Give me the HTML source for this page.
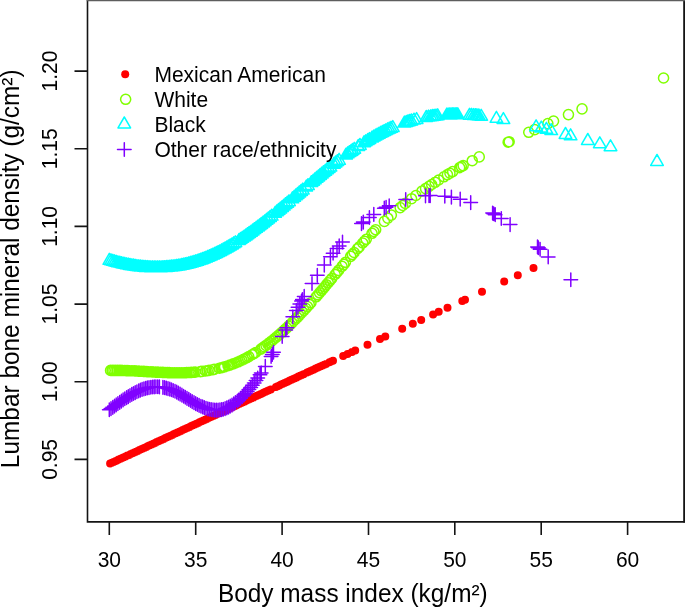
<!DOCTYPE html>
<html lang="en">
<head>
<meta charset="utf-8">
<title>Lumbar bone mineral density vs body mass index</title>
<style>
html,body{margin:0;padding:0;background:#fff;}
body{width:685px;height:608px;overflow:hidden;}
svg{display:block;will-change:transform;opacity:.9999;}
svg text{font-family:"Liberation Sans",sans-serif;fill:#000;}
</style>
</head>
<body>
<svg width="685" height="608" viewBox="0 0 685 608">
<rect width="685" height="608" fill="#fff"/>
<g id="series">
<path d="M106.1 463.6a4 4 0 1 0 8 0a4 4 0 1 0 -8 0M107.8 462.8a4 4 0 1 0 8 0a4 4 0 1 0 -8 0M109.6 462a4 4 0 1 0 8 0a4 4 0 1 0 -8 0M111.3 461.2a4 4 0 1 0 8 0a4 4 0 1 0 -8 0M113 460.4a4 4 0 1 0 8 0a4 4 0 1 0 -8 0M114.7 459.6a4 4 0 1 0 8 0a4 4 0 1 0 -8 0M116.5 458.8a4 4 0 1 0 8 0a4 4 0 1 0 -8 0M118.2 458a4 4 0 1 0 8 0a4 4 0 1 0 -8 0M119.9 457.2a4 4 0 1 0 8 0a4 4 0 1 0 -8 0M121.6 456.4a4 4 0 1 0 8 0a4 4 0 1 0 -8 0M123.4 455.6a4 4 0 1 0 8 0a4 4 0 1 0 -8 0M125.1 454.9a4 4 0 1 0 8 0a4 4 0 1 0 -8 0M126.8 454.1a4 4 0 1 0 8 0a4 4 0 1 0 -8 0M128.6 453.3a4 4 0 1 0 8 0a4 4 0 1 0 -8 0M130.3 452.5a4 4 0 1 0 8 0a4 4 0 1 0 -8 0M132 451.7a4 4 0 1 0 8 0a4 4 0 1 0 -8 0M133.7 450.9a4 4 0 1 0 8 0a4 4 0 1 0 -8 0M135.5 450.1a4 4 0 1 0 8 0a4 4 0 1 0 -8 0M137.2 449.3a4 4 0 1 0 8 0a4 4 0 1 0 -8 0M138.9 448.5a4 4 0 1 0 8 0a4 4 0 1 0 -8 0M140.7 447.7a4 4 0 1 0 8 0a4 4 0 1 0 -8 0M142.4 446.9a4 4 0 1 0 8 0a4 4 0 1 0 -8 0M144.1 446.1a4 4 0 1 0 8 0a4 4 0 1 0 -8 0M145.8 445.3a4 4 0 1 0 8 0a4 4 0 1 0 -8 0M147.6 444.5a4 4 0 1 0 8 0a4 4 0 1 0 -8 0M149.3 443.7a4 4 0 1 0 8 0a4 4 0 1 0 -8 0M151 442.9a4 4 0 1 0 8 0a4 4 0 1 0 -8 0M152.7 442.1a4 4 0 1 0 8 0a4 4 0 1 0 -8 0M154.5 441.3a4 4 0 1 0 8 0a4 4 0 1 0 -8 0M156.2 440.5a4 4 0 1 0 8 0a4 4 0 1 0 -8 0M157.9 439.7a4 4 0 1 0 8 0a4 4 0 1 0 -8 0M159.7 438.9a4 4 0 1 0 8 0a4 4 0 1 0 -8 0M161.4 438.1a4 4 0 1 0 8 0a4 4 0 1 0 -8 0M163.1 437.3a4 4 0 1 0 8 0a4 4 0 1 0 -8 0M164.8 436.5a4 4 0 1 0 8 0a4 4 0 1 0 -8 0M166.6 435.7a4 4 0 1 0 8 0a4 4 0 1 0 -8 0M168.3 434.9a4 4 0 1 0 8 0a4 4 0 1 0 -8 0M170 434.1a4 4 0 1 0 8 0a4 4 0 1 0 -8 0M171.8 433.3a4 4 0 1 0 8 0a4 4 0 1 0 -8 0M173.5 432.5a4 4 0 1 0 8 0a4 4 0 1 0 -8 0M175.2 431.7a4 4 0 1 0 8 0a4 4 0 1 0 -8 0M176.9 430.9a4 4 0 1 0 8 0a4 4 0 1 0 -8 0M178.7 430.1a4 4 0 1 0 8 0a4 4 0 1 0 -8 0M180.4 429.3a4 4 0 1 0 8 0a4 4 0 1 0 -8 0M182.1 428.5a4 4 0 1 0 8 0a4 4 0 1 0 -8 0M183.8 427.7a4 4 0 1 0 8 0a4 4 0 1 0 -8 0M185.6 426.9a4 4 0 1 0 8 0a4 4 0 1 0 -8 0M187.3 426.1a4 4 0 1 0 8 0a4 4 0 1 0 -8 0M189 425.3a4 4 0 1 0 8 0a4 4 0 1 0 -8 0M190.8 424.5a4 4 0 1 0 8 0a4 4 0 1 0 -8 0M192.5 423.7a4 4 0 1 0 8 0a4 4 0 1 0 -8 0M194.2 422.9a4 4 0 1 0 8 0a4 4 0 1 0 -8 0M195.9 422.1a4 4 0 1 0 8 0a4 4 0 1 0 -8 0M197.7 421.3a4 4 0 1 0 8 0a4 4 0 1 0 -8 0M199.4 420.5a4 4 0 1 0 8 0a4 4 0 1 0 -8 0M201.1 419.7a4 4 0 1 0 8 0a4 4 0 1 0 -8 0M202.8 418.9a4 4 0 1 0 8 0a4 4 0 1 0 -8 0M204.6 418.1a4 4 0 1 0 8 0a4 4 0 1 0 -8 0M206.3 417.3a4 4 0 1 0 8 0a4 4 0 1 0 -8 0M208 416.5a4 4 0 1 0 8 0a4 4 0 1 0 -8 0M209.8 415.7a4 4 0 1 0 8 0a4 4 0 1 0 -8 0M211.5 414.9a4 4 0 1 0 8 0a4 4 0 1 0 -8 0M213.2 414.1a4 4 0 1 0 8 0a4 4 0 1 0 -8 0M214.9 413.3a4 4 0 1 0 8 0a4 4 0 1 0 -8 0M216.7 412.5a4 4 0 1 0 8 0a4 4 0 1 0 -8 0M218.4 411.7a4 4 0 1 0 8 0a4 4 0 1 0 -8 0M220.1 411a4 4 0 1 0 8 0a4 4 0 1 0 -8 0M221.9 410.2a4 4 0 1 0 8 0a4 4 0 1 0 -8 0M223.6 409.4a4 4 0 1 0 8 0a4 4 0 1 0 -8 0M225.3 408.6a4 4 0 1 0 8 0a4 4 0 1 0 -8 0M227 407.8a4 4 0 1 0 8 0a4 4 0 1 0 -8 0M228.8 407a4 4 0 1 0 8 0a4 4 0 1 0 -8 0M230.5 406.2a4 4 0 1 0 8 0a4 4 0 1 0 -8 0M232.2 405.4a4 4 0 1 0 8 0a4 4 0 1 0 -8 0M233.9 404.6a4 4 0 1 0 8 0a4 4 0 1 0 -8 0M235.7 403.8a4 4 0 1 0 8 0a4 4 0 1 0 -8 0M237.4 403a4 4 0 1 0 8 0a4 4 0 1 0 -8 0M239.1 402.2a4 4 0 1 0 8 0a4 4 0 1 0 -8 0M240.9 401.4a4 4 0 1 0 8 0a4 4 0 1 0 -8 0M242.6 400.6a4 4 0 1 0 8 0a4 4 0 1 0 -8 0M244.3 399.8a4 4 0 1 0 8 0a4 4 0 1 0 -8 0M246 399a4 4 0 1 0 8 0a4 4 0 1 0 -8 0M247.8 398.2a4 4 0 1 0 8 0a4 4 0 1 0 -8 0M249.5 397.4a4 4 0 1 0 8 0a4 4 0 1 0 -8 0M251.2 396.6a4 4 0 1 0 8 0a4 4 0 1 0 -8 0M253 395.8a4 4 0 1 0 8 0a4 4 0 1 0 -8 0M254.7 395a4 4 0 1 0 8 0a4 4 0 1 0 -8 0M256.4 394.2a4 4 0 1 0 8 0a4 4 0 1 0 -8 0M258.1 393.4a4 4 0 1 0 8 0a4 4 0 1 0 -8 0M259.9 392.6a4 4 0 1 0 8 0a4 4 0 1 0 -8 0M261.6 391.8a4 4 0 1 0 8 0a4 4 0 1 0 -8 0M263.3 391a4 4 0 1 0 8 0a4 4 0 1 0 -8 0M265 390.2a4 4 0 1 0 8 0a4 4 0 1 0 -8 0M266.8 389.4a4 4 0 1 0 8 0a4 4 0 1 0 -8 0M272 387a4 4 0 1 0 8 0a4 4 0 1 0 -8 0M273.7 386.2a4 4 0 1 0 8 0a4 4 0 1 0 -8 0M275.4 385.4a4 4 0 1 0 8 0a4 4 0 1 0 -8 0M277.1 384.6a4 4 0 1 0 8 0a4 4 0 1 0 -8 0M278.9 383.8a4 4 0 1 0 8 0a4 4 0 1 0 -8 0M280.6 383a4 4 0 1 0 8 0a4 4 0 1 0 -8 0M282.3 382.2a4 4 0 1 0 8 0a4 4 0 1 0 -8 0M284 381.4a4 4 0 1 0 8 0a4 4 0 1 0 -8 0M285.8 380.6a4 4 0 1 0 8 0a4 4 0 1 0 -8 0M287.5 379.8a4 4 0 1 0 8 0a4 4 0 1 0 -8 0M289.2 379a4 4 0 1 0 8 0a4 4 0 1 0 -8 0M291 378.2a4 4 0 1 0 8 0a4 4 0 1 0 -8 0M292.7 377.4a4 4 0 1 0 8 0a4 4 0 1 0 -8 0M294.4 376.6a4 4 0 1 0 8 0a4 4 0 1 0 -8 0M296.1 375.8a4 4 0 1 0 8 0a4 4 0 1 0 -8 0M297.9 375a4 4 0 1 0 8 0a4 4 0 1 0 -8 0M299.6 374.2a4 4 0 1 0 8 0a4 4 0 1 0 -8 0M303.1 372.6a4 4 0 1 0 8 0a4 4 0 1 0 -8 0M304.8 371.8a4 4 0 1 0 8 0a4 4 0 1 0 -8 0M306.5 371a4 4 0 1 0 8 0a4 4 0 1 0 -8 0M308.2 370.2a4 4 0 1 0 8 0a4 4 0 1 0 -8 0M310 369.4a4 4 0 1 0 8 0a4 4 0 1 0 -8 0M311.7 368.6a4 4 0 1 0 8 0a4 4 0 1 0 -8 0M313.4 367.8a4 4 0 1 0 8 0a4 4 0 1 0 -8 0M315.1 367.1a4 4 0 1 0 8 0a4 4 0 1 0 -8 0M316.9 366.3a4 4 0 1 0 8 0a4 4 0 1 0 -8 0M318.6 365.5a4 4 0 1 0 8 0a4 4 0 1 0 -8 0M320.3 364.7a4 4 0 1 0 8 0a4 4 0 1 0 -8 0M322.1 363.9a4 4 0 1 0 8 0a4 4 0 1 0 -8 0M325.5 362.3a4 4 0 1 0 8 0a4 4 0 1 0 -8 0M327.2 361.5a4 4 0 1 0 8 0a4 4 0 1 0 -8 0M329 360.7a4 4 0 1 0 8 0a4 4 0 1 0 -8 0M339.2 355.9a4 4 0 1 0 8 0a4 4 0 1 0 -8 0M343.6 353.9a4 4 0 1 0 8 0a4 4 0 1 0 -8 0M348 351.9a4 4 0 1 0 8 0a4 4 0 1 0 -8 0M351.2 350.4a4 4 0 1 0 8 0a4 4 0 1 0 -8 0M363.5 344.7a4 4 0 1 0 8 0a4 4 0 1 0 -8 0M376 338.9a4 4 0 1 0 8 0a4 4 0 1 0 -8 0M381.3 336.5a4 4 0 1 0 8 0a4 4 0 1 0 -8 0M398.2 328.7a4 4 0 1 0 8 0a4 4 0 1 0 -8 0M408.8 323.8a4 4 0 1 0 8 0a4 4 0 1 0 -8 0M417.2 319.9a4 4 0 1 0 8 0a4 4 0 1 0 -8 0M429.1 314.4a4 4 0 1 0 8 0a4 4 0 1 0 -8 0M434.7 311.8a4 4 0 1 0 8 0a4 4 0 1 0 -8 0M443.5 307.8a4 4 0 1 0 8 0a4 4 0 1 0 -8 0M458.3 300.9a4 4 0 1 0 8 0a4 4 0 1 0 -8 0M461 299.7a4 4 0 1 0 8 0a4 4 0 1 0 -8 0M478 291.8a4 4 0 1 0 8 0a4 4 0 1 0 -8 0M500.2 281.6a4 4 0 1 0 8 0a4 4 0 1 0 -8 0M513.8 275.3a4 4 0 1 0 8 0a4 4 0 1 0 -8 0M529.5 268a4 4 0 1 0 8 0a4 4 0 1 0 -8 0" fill="#ff0000"/>
<path d="M105.5 370.4a5 5 0 1 0 10.1 0a5 5 0 1 0 -10.1 0M107.2 370.4a5 5 0 1 0 10.1 0a5 5 0 1 0 -10.1 0M108.9 370.4a5 5 0 1 0 10.1 0a5 5 0 1 0 -10.1 0M110.7 370.4a5 5 0 1 0 10.1 0a5 5 0 1 0 -10.1 0M112.4 370.4a5 5 0 1 0 10.1 0a5 5 0 1 0 -10.1 0M114.1 370.4a5 5 0 1 0 10.1 0a5 5 0 1 0 -10.1 0M115.8 370.4a5 5 0 1 0 10.1 0a5 5 0 1 0 -10.1 0M117.6 370.5a5 5 0 1 0 10.1 0a5 5 0 1 0 -10.1 0M119.3 370.5a5 5 0 1 0 10.1 0a5 5 0 1 0 -10.1 0M121 370.6a5 5 0 1 0 10.1 0a5 5 0 1 0 -10.1 0M122.8 370.6a5 5 0 1 0 10.1 0a5 5 0 1 0 -10.1 0M124.5 370.7a5 5 0 1 0 10.1 0a5 5 0 1 0 -10.1 0M126.2 370.8a5 5 0 1 0 10.1 0a5 5 0 1 0 -10.1 0M127.9 370.8a5 5 0 1 0 10.1 0a5 5 0 1 0 -10.1 0M129.7 370.9a5 5 0 1 0 10.1 0a5 5 0 1 0 -10.1 0M131.4 371a5 5 0 1 0 10.1 0a5 5 0 1 0 -10.1 0M133.1 371.1a5 5 0 1 0 10.1 0a5 5 0 1 0 -10.1 0M134.8 371.2a5 5 0 1 0 10.1 0a5 5 0 1 0 -10.1 0M136.6 371.3a5 5 0 1 0 10.1 0a5 5 0 1 0 -10.1 0M138.3 371.4a5 5 0 1 0 10.1 0a5 5 0 1 0 -10.1 0M140 371.5a5 5 0 1 0 10.1 0a5 5 0 1 0 -10.1 0M141.8 371.6a5 5 0 1 0 10.1 0a5 5 0 1 0 -10.1 0M143.5 371.7a5 5 0 1 0 10.1 0a5 5 0 1 0 -10.1 0M145.2 371.8a5 5 0 1 0 10.1 0a5 5 0 1 0 -10.1 0M146.9 371.9a5 5 0 1 0 10.1 0a5 5 0 1 0 -10.1 0M148.7 372a5 5 0 1 0 10.1 0a5 5 0 1 0 -10.1 0M150.4 372.1a5 5 0 1 0 10.1 0a5 5 0 1 0 -10.1 0M152.1 372.1a5 5 0 1 0 10.1 0a5 5 0 1 0 -10.1 0M153.8 372.2a5 5 0 1 0 10.1 0a5 5 0 1 0 -10.1 0M155.6 372.3a5 5 0 1 0 10.1 0a5 5 0 1 0 -10.1 0M157.3 372.4a5 5 0 1 0 10.1 0a5 5 0 1 0 -10.1 0M159 372.5a5 5 0 1 0 10.1 0a5 5 0 1 0 -10.1 0M160.8 372.5a5 5 0 1 0 10.1 0a5 5 0 1 0 -10.1 0M162.5 372.6a5 5 0 1 0 10.1 0a5 5 0 1 0 -10.1 0M164.2 372.6a5 5 0 1 0 10.1 0a5 5 0 1 0 -10.1 0M165.9 372.7a5 5 0 1 0 10.1 0a5 5 0 1 0 -10.1 0M167.7 372.7a5 5 0 1 0 10.1 0a5 5 0 1 0 -10.1 0M169.4 372.7a5 5 0 1 0 10.1 0a5 5 0 1 0 -10.1 0M171.1 372.8a5 5 0 1 0 10.1 0a5 5 0 1 0 -10.1 0M172.9 372.8a5 5 0 1 0 10.1 0a5 5 0 1 0 -10.1 0M174.6 372.8a5 5 0 1 0 10.1 0a5 5 0 1 0 -10.1 0M176.3 372.7a5 5 0 1 0 10.1 0a5 5 0 1 0 -10.1 0M178 372.7a5 5 0 1 0 10.1 0a5 5 0 1 0 -10.1 0M179.8 372.7a5 5 0 1 0 10.1 0a5 5 0 1 0 -10.1 0M181.5 372.6a5 5 0 1 0 10.1 0a5 5 0 1 0 -10.1 0M183.2 372.5a5 5 0 1 0 10.1 0a5 5 0 1 0 -10.1 0M184.9 372.5a5 5 0 1 0 10.1 0a5 5 0 1 0 -10.1 0M186.7 372.4a5 5 0 1 0 10.1 0a5 5 0 1 0 -10.1 0M188.4 372.2a5 5 0 1 0 10.1 0a5 5 0 1 0 -10.1 0M190.1 372.1a5 5 0 1 0 10.1 0a5 5 0 1 0 -10.1 0M195.3 371.6a5 5 0 1 0 10.1 0a5 5 0 1 0 -10.1 0M197 371.4a5 5 0 1 0 10.1 0a5 5 0 1 0 -10.1 0M200.5 371a5 5 0 1 0 10.1 0a5 5 0 1 0 -10.1 0M202.2 370.7a5 5 0 1 0 10.1 0a5 5 0 1 0 -10.1 0M204 370.4a5 5 0 1 0 10.1 0a5 5 0 1 0 -10.1 0M207.4 369.8a5 5 0 1 0 10.1 0a5 5 0 1 0 -10.1 0M209.1 369.4a5 5 0 1 0 10.1 0a5 5 0 1 0 -10.1 0M214.3 368.2a5 5 0 1 0 10.1 0a5 5 0 1 0 -10.1 0M216 367.8a5 5 0 1 0 10.1 0a5 5 0 1 0 -10.1 0M217.8 367.3a5 5 0 1 0 10.1 0a5 5 0 1 0 -10.1 0M219.5 366.8a5 5 0 1 0 10.1 0a5 5 0 1 0 -10.1 0M223 365.7a5 5 0 1 0 10.1 0a5 5 0 1 0 -10.1 0M224.7 365.1a5 5 0 1 0 10.1 0a5 5 0 1 0 -10.1 0M226.4 364.5a5 5 0 1 0 10.1 0a5 5 0 1 0 -10.1 0M228.1 363.9a5 5 0 1 0 10.1 0a5 5 0 1 0 -10.1 0M229.9 363.2a5 5 0 1 0 10.1 0a5 5 0 1 0 -10.1 0M231.6 362.5a5 5 0 1 0 10.1 0a5 5 0 1 0 -10.1 0M233.3 361.8a5 5 0 1 0 10.1 0a5 5 0 1 0 -10.1 0M235 361a5 5 0 1 0 10.1 0a5 5 0 1 0 -10.1 0M236.8 360.2a5 5 0 1 0 10.1 0a5 5 0 1 0 -10.1 0M238.5 359.3a5 5 0 1 0 10.1 0a5 5 0 1 0 -10.1 0M240.2 358.5a5 5 0 1 0 10.1 0a5 5 0 1 0 -10.1 0M242 357.6a5 5 0 1 0 10.1 0a5 5 0 1 0 -10.1 0M243.7 356.6a5 5 0 1 0 10.1 0a5 5 0 1 0 -10.1 0M247.1 354.7a5 5 0 1 0 10.1 0a5 5 0 1 0 -10.1 0M248.9 353.6a5 5 0 1 0 10.1 0a5 5 0 1 0 -10.1 0M250.6 352.5a5 5 0 1 0 10.1 0a5 5 0 1 0 -10.1 0M255.8 349.1a5 5 0 1 0 10.1 0a5 5 0 1 0 -10.1 0M257.5 347.9a5 5 0 1 0 10.1 0a5 5 0 1 0 -10.1 0M259.2 346.6a5 5 0 1 0 10.1 0a5 5 0 1 0 -10.1 0M261 345.4a5 5 0 1 0 10.1 0a5 5 0 1 0 -10.1 0M262.7 344.1a5 5 0 1 0 10.1 0a5 5 0 1 0 -10.1 0M264.4 342.7a5 5 0 1 0 10.1 0a5 5 0 1 0 -10.1 0M266.1 341.4a5 5 0 1 0 10.1 0a5 5 0 1 0 -10.1 0M267.9 340a5 5 0 1 0 10.1 0a5 5 0 1 0 -10.1 0M269.6 338.5a5 5 0 1 0 10.1 0a5 5 0 1 0 -10.1 0M271.3 337.1a5 5 0 1 0 10.1 0a5 5 0 1 0 -10.1 0M273.1 335.6a5 5 0 1 0 10.1 0a5 5 0 1 0 -10.1 0M274.8 334.1a5 5 0 1 0 10.1 0a5 5 0 1 0 -10.1 0M276.5 332.5a5 5 0 1 0 10.1 0a5 5 0 1 0 -10.1 0M278.2 331a5 5 0 1 0 10.1 0a5 5 0 1 0 -10.1 0M280 329.4a5 5 0 1 0 10.1 0a5 5 0 1 0 -10.1 0M281.7 327.8a5 5 0 1 0 10.1 0a5 5 0 1 0 -10.1 0M283.4 326.1a5 5 0 1 0 10.1 0a5 5 0 1 0 -10.1 0M285.2 324.5a5 5 0 1 0 10.1 0a5 5 0 1 0 -10.1 0M286.9 322.8a5 5 0 1 0 10.1 0a5 5 0 1 0 -10.1 0M288.6 321a5 5 0 1 0 10.1 0a5 5 0 1 0 -10.1 0M290.3 319.3a5 5 0 1 0 10.1 0a5 5 0 1 0 -10.1 0M292.1 317.6a5 5 0 1 0 10.1 0a5 5 0 1 0 -10.1 0M293.8 315.8a5 5 0 1 0 10.1 0a5 5 0 1 0 -10.1 0M295.5 314a5 5 0 1 0 10.1 0a5 5 0 1 0 -10.1 0M297.2 312.1a5 5 0 1 0 10.1 0a5 5 0 1 0 -10.1 0M299 310.3a5 5 0 1 0 10.1 0a5 5 0 1 0 -10.1 0M300.7 308.4a5 5 0 1 0 10.1 0a5 5 0 1 0 -10.1 0M302.4 306.5a5 5 0 1 0 10.1 0a5 5 0 1 0 -10.1 0M304.2 304.6a5 5 0 1 0 10.1 0a5 5 0 1 0 -10.1 0M305.9 302.7a5 5 0 1 0 10.1 0a5 5 0 1 0 -10.1 0M311.1 296.8a5 5 0 1 0 10.1 0a5 5 0 1 0 -10.1 0M312.8 294.8a5 5 0 1 0 10.1 0a5 5 0 1 0 -10.1 0M314.5 292.8a5 5 0 1 0 10.1 0a5 5 0 1 0 -10.1 0M316.3 290.8a5 5 0 1 0 10.1 0a5 5 0 1 0 -10.1 0M318 288.8a5 5 0 1 0 10.1 0a5 5 0 1 0 -10.1 0M319.7 286.8a5 5 0 1 0 10.1 0a5 5 0 1 0 -10.1 0M321.4 284.7a5 5 0 1 0 10.1 0a5 5 0 1 0 -10.1 0M323.2 282.7a5 5 0 1 0 10.1 0a5 5 0 1 0 -10.1 0M324.9 280.6a5 5 0 1 0 10.1 0a5 5 0 1 0 -10.1 0M326.6 278.6a5 5 0 1 0 10.1 0a5 5 0 1 0 -10.1 0M330.1 274.5a5 5 0 1 0 10.1 0a5 5 0 1 0 -10.1 0M331.8 272.5a5 5 0 1 0 10.1 0a5 5 0 1 0 -10.1 0M333.5 270.4a5 5 0 1 0 10.1 0a5 5 0 1 0 -10.1 0M337 266.4a5 5 0 1 0 10.1 0a5 5 0 1 0 -10.1 0M338.7 264.4a5 5 0 1 0 10.1 0a5 5 0 1 0 -10.1 0M340.4 262.3a5 5 0 1 0 10.1 0a5 5 0 1 0 -10.1 0M345.6 256.4a5 5 0 1 0 10.1 0a5 5 0 1 0 -10.1 0M347.3 254.4a5 5 0 1 0 10.1 0a5 5 0 1 0 -10.1 0M349.1 252.5a5 5 0 1 0 10.1 0a5 5 0 1 0 -10.1 0M352.5 248.7a5 5 0 1 0 10.1 0a5 5 0 1 0 -10.1 0M354.3 246.8a5 5 0 1 0 10.1 0a5 5 0 1 0 -10.1 0M357.7 243a5 5 0 1 0 10.1 0a5 5 0 1 0 -10.1 0M359.4 241.2a5 5 0 1 0 10.1 0a5 5 0 1 0 -10.1 0M361.2 239.3a5 5 0 1 0 10.1 0a5 5 0 1 0 -10.1 0M367 233.3a5 5 0 1 0 10.1 0a5 5 0 1 0 -10.1 0M368.8 231.5a5 5 0 1 0 10.1 0a5 5 0 1 0 -10.1 0M370.6 229.7a5 5 0 1 0 10.1 0a5 5 0 1 0 -10.1 0M379.3 221.4a5 5 0 1 0 10.1 0a5 5 0 1 0 -10.1 0M382.8 218.2a5 5 0 1 0 10.1 0a5 5 0 1 0 -10.1 0M386.3 215.1a5 5 0 1 0 10.1 0a5 5 0 1 0 -10.1 0M395.1 207.6a5 5 0 1 0 10.1 0a5 5 0 1 0 -10.1 0M397.7 205.5a5 5 0 1 0 10.1 0a5 5 0 1 0 -10.1 0M400.3 203.4a5 5 0 1 0 10.1 0a5 5 0 1 0 -10.1 0M406.5 198.7a5 5 0 1 0 10.1 0a5 5 0 1 0 -10.1 0M410.8 195.5a5 5 0 1 0 10.1 0a5 5 0 1 0 -10.1 0M417 191a5 5 0 1 0 10.1 0a5 5 0 1 0 -10.1 0M420.5 188.6a5 5 0 1 0 10.1 0a5 5 0 1 0 -10.1 0M424 186.3a5 5 0 1 0 10.1 0a5 5 0 1 0 -10.1 0M426.6 184.5a5 5 0 1 0 10.1 0a5 5 0 1 0 -10.1 0M430.1 182.3a5 5 0 1 0 10.1 0a5 5 0 1 0 -10.1 0M433.6 180a5 5 0 1 0 10.1 0a5 5 0 1 0 -10.1 0M438.9 176.8a5 5 0 1 0 10.1 0a5 5 0 1 0 -10.1 0M442.4 174.6a5 5 0 1 0 10.1 0a5 5 0 1 0 -10.1 0M444.9 173.2a5 5 0 1 0 10.1 0a5 5 0 1 0 -10.1 0M447.6 171.6a5 5 0 1 0 10.1 0a5 5 0 1 0 -10.1 0M454.6 167.6a5 5 0 1 0 10.1 0a5 5 0 1 0 -10.1 0M456.3 166.6a5 5 0 1 0 10.1 0a5 5 0 1 0 -10.1 0M458.1 165.6a5 5 0 1 0 10.1 0a5 5 0 1 0 -10.1 0M467.2 160.7a5 5 0 1 0 10.1 0a5 5 0 1 0 -10.1 0M474.2 156.9a5 5 0 1 0 10.1 0a5 5 0 1 0 -10.1 0M503.1 142.2a5 5 0 1 0 10.1 0a5 5 0 1 0 -10.1 0M504.1 141.7a5 5 0 1 0 10.1 0a5 5 0 1 0 -10.1 0M523.7 132.3a5 5 0 1 0 10.1 0a5 5 0 1 0 -10.1 0M529.6 129.6a5 5 0 1 0 10.1 0a5 5 0 1 0 -10.1 0M542.8 123.6a5 5 0 1 0 10.1 0a5 5 0 1 0 -10.1 0M548.5 121.1a5 5 0 1 0 10.1 0a5 5 0 1 0 -10.1 0M563.4 114.6a5 5 0 1 0 10.1 0a5 5 0 1 0 -10.1 0M577 108.9a5 5 0 1 0 10.1 0a5 5 0 1 0 -10.1 0M658.5 78a5 5 0 1 0 10.1 0a5 5 0 1 0 -10.1 0" fill="none" stroke="#80ff00" stroke-width="1.5"/>
<path d="M109.3 253.4L115.6 264.3L103 264.3ZM111 253.9L117.3 264.8L104.7 264.8ZM112.8 254.4L119 265.3L106.5 265.3ZM114.5 254.9L120.8 265.8L108.2 265.8ZM116.2 255.4L122.5 266.3L109.9 266.3ZM117.9 255.8L124.2 266.7L111.6 266.7ZM119.7 256.2L126 267.1L113.4 267.1ZM121.4 256.7L127.7 267.6L115.1 267.6ZM123.1 257.1L129.4 268L116.8 268ZM124.8 257.4L131.1 268.3L118.6 268.3ZM126.6 257.8L132.9 268.7L120.3 268.7ZM128.3 258.1L134.6 269L122 269ZM130 258.5L136.3 269.4L123.7 269.4ZM131.8 258.8L138.1 269.7L125.5 269.7ZM133.5 259L139.8 269.9L127.2 269.9ZM135.2 259.3L141.5 270.2L128.9 270.2ZM136.9 259.6L143.2 270.5L130.6 270.5ZM138.7 259.8L145 270.7L132.4 270.7ZM140.4 260L146.7 270.9L134.1 270.9ZM142.1 260.2L148.4 271.1L135.8 271.1ZM143.9 260.3L150.1 271.2L137.6 271.2ZM145.6 260.5L151.9 271.4L139.3 271.4ZM147.3 260.6L153.6 271.5L141 271.5ZM149 260.7L155.3 271.6L142.7 271.6ZM150.8 260.8L157.1 271.7L144.5 271.7ZM152.5 260.8L158.8 271.7L146.2 271.7ZM154.2 260.9L160.5 271.8L147.9 271.8ZM155.9 260.9L162.2 271.8L149.7 271.8ZM157.7 260.9L164 271.8L151.4 271.8ZM159.4 260.9L165.7 271.8L153.1 271.8ZM161.1 260.8L167.4 271.7L154.8 271.7ZM162.9 260.7L169.2 271.6L156.6 271.6ZM164.6 260.7L170.9 271.6L158.3 271.6ZM166.3 260.5L172.6 271.4L160 271.4ZM168 260.4L174.3 271.3L161.7 271.3ZM169.8 260.2L176.1 271.1L163.5 271.1ZM171.5 260L177.8 270.9L165.2 270.9ZM173.2 259.8L179.5 270.7L166.9 270.7ZM175 259.6L181.2 270.5L168.7 270.5ZM176.7 259.3L183 270.2L170.4 270.2ZM178.4 259.1L184.7 270L172.1 270ZM180.1 258.8L186.4 269.7L173.8 269.7ZM181.9 258.4L188.2 269.3L175.6 269.3ZM183.6 258.1L189.9 269L177.3 269ZM185.3 257.7L191.6 268.6L179 268.6ZM187 257.3L193.3 268.2L180.8 268.2ZM188.8 256.9L195.1 267.8L182.5 267.8ZM190.5 256.4L196.8 267.3L184.2 267.3ZM192.2 255.9L198.5 266.8L185.9 266.8ZM194 255.4L200.2 266.3L187.7 266.3ZM195.7 254.9L202 265.8L189.4 265.8ZM197.4 254.3L203.7 265.2L191.1 265.2ZM199.1 253.7L205.4 264.6L192.8 264.6ZM200.9 253.1L207.2 264L194.6 264ZM202.6 252.5L208.9 263.4L196.3 263.4ZM204.3 251.8L210.6 262.7L198 262.7ZM206 251.2L212.3 262.1L199.8 262.1ZM207.8 250.4L214.1 261.3L201.5 261.3ZM209.5 249.7L215.8 260.6L203.2 260.6ZM211.2 248.9L217.5 259.8L204.9 259.8ZM213 248.1L219.3 259.1L206.7 259.1ZM214.7 247.3L221 258.2L208.4 258.2ZM216.4 246.5L222.7 257.4L210.1 257.4ZM218.1 245.6L224.4 256.5L211.8 256.5ZM219.9 244.8L226.2 255.7L213.6 255.7ZM221.6 243.9L227.9 254.8L215.3 254.8ZM223.3 242.9L229.6 253.8L217 253.8ZM225.1 242L231.3 252.9L218.8 252.9ZM226.8 241L233.1 251.9L220.5 251.9ZM228.5 240L234.8 250.9L222.2 250.9ZM230.2 239L236.5 249.9L223.9 249.9ZM232 238L238.3 248.9L225.7 248.9ZM233.7 236.9L240 247.8L227.4 247.8ZM235.4 235.8L241.7 246.7L229.1 246.7ZM238.9 233.6L245.2 244.5L232.6 244.5ZM240.6 232.5L246.9 243.4L234.3 243.4ZM242.3 231.3L248.6 242.2L236 242.2ZM244.1 230.2L250.4 241.1L237.8 241.1ZM245.8 229L252.1 239.9L239.5 239.9ZM247.5 227.7L253.8 238.7L241.2 238.7ZM249.2 226.5L255.5 237.4L242.9 237.4ZM251 225.3L257.3 236.2L244.7 236.2ZM252.7 224L259 234.9L246.4 234.9ZM254.4 222.7L260.7 233.6L248.1 233.6ZM256.2 221.4L262.4 232.3L249.9 232.3ZM257.9 220.1L264.2 231L251.6 231ZM259.6 218.8L265.9 229.7L253.3 229.7ZM261.3 217.5L267.6 228.4L255 228.4ZM263.1 216.1L269.4 227L256.8 227ZM264.8 214.8L271.1 225.7L258.5 225.7ZM266.5 213.4L272.8 224.3L260.2 224.3ZM268.2 212L274.5 222.9L262 222.9ZM270 210.6L276.3 221.5L263.7 221.5ZM271.7 209.2L278 220.1L265.4 220.1ZM275.2 206.4L281.4 217.3L268.9 217.3ZM276.9 204.9L283.2 215.8L270.6 215.8ZM278.6 203.5L284.9 214.4L272.3 214.4ZM280.3 202.1L286.6 213L274 213ZM282.1 200.6L288.4 211.5L275.8 211.5ZM283.8 199.2L290.1 210.1L277.5 210.1ZM285.5 197.7L291.8 208.6L279.2 208.6ZM287.2 196.3L293.5 207.2L281 207.2ZM289 194.8L295.3 205.7L282.7 205.7ZM292.4 191.9L298.7 202.8L286.1 202.8ZM294.2 190.4L300.5 201.3L287.9 201.3ZM295.9 188.9L302.2 199.8L289.6 199.8ZM297.6 187.5L303.9 198.4L291.3 198.4ZM299.3 186L305.6 196.9L293 196.9ZM301.1 184.5L307.4 195.4L294.8 195.4ZM302.8 183.1L309.1 194L296.5 194ZM306.3 180.1L312.5 191L300 191ZM308 178.7L314.3 189.6L301.7 189.6ZM311.4 175.7L317.7 186.6L305.1 186.6ZM313.2 174.3L319.5 185.2L306.9 185.2ZM314.9 172.9L321.2 183.8L308.6 183.8ZM316.6 171.4L322.9 182.3L310.3 182.3ZM318.3 170L324.6 180.9L312.1 180.9ZM320.1 168.5L326.4 179.4L313.8 179.4ZM321.8 167.1L328.1 178L315.5 178ZM323.5 165.7L329.8 176.6L317.2 176.6ZM325.3 164.3L331.6 175.2L319 175.2ZM327 162.9L333.3 173.8L320.7 173.8ZM328.7 161.5L335 172.4L322.4 172.4ZM330.4 160.1L336.7 171L324.1 171ZM333.9 157.4L340.2 168.3L327.6 168.3ZM335.6 156L341.9 166.9L329.3 166.9ZM337.4 154.7L343.6 165.6L331.1 165.6ZM339.1 153.4L345.4 164.3L332.8 164.3ZM346 148.2L352.3 159.1L339.7 159.1ZM347.7 146.9L354 157.8L341.4 157.8ZM349.4 145.7L355.7 156.6L343.2 156.6ZM351.2 144.5L357.5 155.4L344.9 155.4ZM352.6 143.5L358.9 154.4L346.3 154.4ZM354.3 142.3L360.6 153.2L348 153.2ZM358.2 139.6L364.5 150.5L351.9 150.5ZM359.9 138.5L366.2 149.4L353.6 149.4ZM364 135.9L370.3 146.8L357.7 146.8ZM365.7 134.8L372 145.7L359.4 145.7ZM367.7 133.6L374 144.5L361.4 144.5ZM369.4 132.6L375.7 143.5L363.1 143.5ZM372 131.1L378.3 142L365.7 142ZM373.7 130.1L380 141L367.4 141ZM375.5 129.1L381.8 140L369.2 140ZM377.2 128.2L383.5 139.1L370.9 139.1ZM378.9 127.3L385.2 138.2L372.6 138.2ZM380.6 126.4L386.9 137.3L374.3 137.3ZM382.4 125.5L388.7 136.4L376.1 136.4ZM384.1 124.6L390.4 135.5L377.8 135.5ZM385.8 123.8L392.1 134.7L379.5 134.7ZM387.6 122.9L393.9 133.8L381.3 133.8ZM389.3 122.1L395.6 133.1L383 133.1ZM391 121.4L397.3 132.3L384.7 132.3ZM392.8 120.6L399.1 131.5L386.5 131.5ZM404.4 116.1L410.7 127L398.1 127ZM406.2 115.5L412.5 126.5L399.9 126.5ZM407.9 115L414.2 125.9L401.6 125.9ZM409.6 114.5L415.9 125.4L403.3 125.4ZM411.4 114L417.7 124.9L405.1 124.9ZM414 113.2L420.3 124.1L407.7 124.1ZM416.6 112.6L422.9 123.5L410.3 123.5ZM426.3 110.5L432.6 121.4L420 121.4ZM428.5 110.1L434.8 121L422.2 121ZM430.7 109.8L437 120.7L424.4 120.7ZM432.5 109.5L438.8 120.4L426.2 120.4ZM434.2 109.3L440.5 120.2L427.9 120.2ZM436 109.1L442.3 120L429.7 120ZM437.7 108.9L444 119.8L431.4 119.8ZM446.8 108.1L453.1 119L440.5 119ZM448.2 108.1L454.5 119L441.9 119ZM449.6 108L455.9 118.9L443.3 118.9ZM451 108L457.3 118.9L444.7 118.9ZM452.4 107.9L458.7 118.8L446.1 118.8ZM453.8 107.9L460.1 118.8L447.5 118.8ZM455.2 107.9L461.5 118.8L448.9 118.8ZM456.6 107.9L462.9 118.8L450.3 118.8ZM457.8 107.9L464.1 118.8L451.5 118.8ZM469.5 108.3L475.8 119.2L463.2 119.2ZM471.5 108.4L477.8 119.3L465.2 119.3ZM473.6 108.6L479.9 119.5L467.3 119.5ZM475.5 108.7L481.8 119.6L469.2 119.6ZM477 108.9L483.3 119.8L470.7 119.8ZM478.8 109L485.1 119.9L472.5 119.9ZM481.2 109.3L487.5 120.2L474.9 120.2ZM496.4 111.4L502.7 122.3L490.1 122.3ZM503.4 112.6L509.7 123.5L497.1 123.5ZM536.1 119.8L542.4 130.7L529.8 130.7ZM541.3 121.1L547.6 132L535 132ZM546.4 122.4L552.7 133.3L540.1 133.3ZM551.2 123.7L557.5 134.6L544.9 134.6ZM565.5 127.5L571.8 138.4L559.2 138.4ZM570.6 128.9L576.9 139.8L564.3 139.8ZM587.8 133.5L594.1 144.4L581.5 144.4ZM599.8 136.8L606.1 147.7L593.5 147.7ZM610.5 139.8L616.8 150.7L604.2 150.7ZM657 154.5L663.3 165.4L650.7 165.4Z" fill="none" stroke="#00ffff" stroke-width="1.5" stroke-linejoin="round"/>
<path d="M102.5 409.8H116.1M109.3 403V416.6M104.2 408.6H117.8M111 401.8V415.4M105.9 407.3H119.6M112.8 400.5V414.2M107.7 406.1H121.3M114.5 399.3V412.9M109.4 404.8H123M116.2 398V411.7M111.1 403.6H124.8M117.9 396.8V410.4M112.8 402.4H126.5M119.7 395.5V409.2M114.6 401.2H128.2M121.4 394.3V408M116.3 400H129.9M123.1 393.1V406.8M118 398.8H131.7M124.8 392V405.6M119.8 397.7H133.4M126.6 390.8V404.5M121.5 396.5H135.1M128.3 389.7V403.4M123.2 395.5H136.9M130 388.7V402.3M124.9 394.5H138.6M131.8 387.6V401.3M126.7 393.5H140.3M133.5 386.7V400.3M128.4 392.6H142M135.2 385.7V399.4M130.1 391.7H143.8M136.9 384.9V398.5M131.8 390.9H145.5M138.7 384.1V397.7M133.6 390.1H147.2M140.4 383.3V397M135.3 389.5H148.9M142.1 382.6V396.3M137 388.9H150.7M143.9 382V395.7M138.8 388.3H152.4M145.6 381.5V395.2M140.5 387.9H154.1M147.3 381.1V394.7M142.2 387.5H155.9M149 380.7V394.4M143.9 387.2H157.6M150.8 380.4V394.1M145.7 387H159.3M152.5 380.2V393.8M147.4 386.9H161M154.2 380.1V393.7M149.1 386.8H162.8M155.9 380V393.6M150.9 386.8H164.5M157.7 380V393.6M152.6 386.9H166.2M159.4 380.1V393.7M156 387.3H169.7M162.9 380.5V394.2M157.8 387.7H171.4M164.6 380.8V394.5M159.5 388.1H173.1M166.3 381.2V394.9M161.2 388.6H174.9M168 381.7V395.4M162.9 389.1H176.6M169.8 382.3V395.9M164.7 389.8H178.3M171.5 382.9V396.6M166.4 390.5H180M173.2 383.7V397.3M168.1 391.3H181.8M175 384.5V398.1M169.9 392.2H183.5M176.7 385.3V399M171.6 393.1H185.2M178.4 386.3V399.9M173.3 394.1H187M180.1 387.3V400.9M175 395.1H188.7M181.9 388.3V402M176.8 396.2H190.4M183.6 389.4V403M178.5 397.3H192.1M185.3 390.5V404.1M180.2 398.4H193.9M187 391.5V405.2M182 399.5H195.6M188.8 392.6V406.3M183.7 400.5H197.3M190.5 393.7V407.3M185.4 401.6H199.1M192.2 394.8V408.4M187.1 402.6H200.8M194 395.8V409.4M188.9 403.6H202.5M195.7 396.7V410.4M190.6 404.5H204.2M197.4 397.7V411.3M192.3 405.4H206M199.1 398.6V412.2M194 406.2H207.7M200.9 399.4V413M195.8 407H209.4M202.6 400.1V413.8M197.5 407.7H211.1M204.3 400.8V414.5M199.2 408.3H212.9M206 401.5V415.1M201 408.8H214.6M207.8 402V415.7M202.7 409.3H216.3M209.5 402.5V416.1M204.4 409.7H218.1M211.2 402.8V416.5M206.1 409.9H219.8M213 403.1V416.7M207.9 410.1H221.5M214.7 403.3V416.9M209.6 410.1H223.2M216.4 403.3V417M211.3 410.1H225M218.1 403.3V416.9M213 409.9H226.7M219.9 403.1V416.7M214.8 409.6H228.4M221.6 402.8V416.4M216.5 409.2H230.1M223.3 402.4V416M218.2 408.6H231.9M225.1 401.8V415.4M220 407.9H233.6M226.8 401.1V414.7M221.7 407.1H235.3M228.5 400.3V413.9M223.4 406.2H237.1M230.2 399.3V413M225.1 405.1H238.8M232 398.3V411.9M226.9 403.9H240.5M233.7 397.1V410.8M228.6 402.7H242.2M235.4 395.8V409.5M230.7 401H244.3M237.5 394.2V407.8M232.2 399.7H245.8M239 392.9V406.5M233.8 398.2H247.4M240.6 391.4V405.1M235.5 396.6H249.1M242.3 389.8V403.4M237 395.1H250.6M243.8 388.3V401.9M238.6 393.4H252.2M245.4 386.6V400.3M240.4 391.5H254M247.2 384.7V398.3M242.1 389.5H255.7M248.9 382.7V396.4M243.9 387.4H257.5M250.7 380.6V394.2M245.6 385.3H259.2M252.4 378.5V392.1M247.4 382.9H261M254.2 376.1V389.8M249.2 380.5H262.8M256 373.7V387.3M250.9 378.1H264.5M257.7 371.3V384.9M253.2 374.8H266.8M260 367.9V381.6M254.4 372.9H268M261.2 366.1V379.7M258.5 366.4H272.1M265.3 359.6V373.2M264.3 356.5H277.9M271.1 349.7V363.3M265.5 354.4H279.1M272.3 347.5V361.2M266.7 352.2H280.3M273.5 345.4V359.1M275.4 336.4H289M282.2 329.5V343.2M278.9 329.9H292.5M285.7 323.1V336.7M280.1 327.7H293.7M286.9 320.8V334.5M286 316.8H299.6M292.8 309.9V323.6M289.5 310.4H303.1M296.3 303.6V317.2M291.2 307.3H304.8M298 300.5V314.1M293 304.1H306.6M299.8 297.3V310.9M294.7 301.1H308.3M301.5 294.3V307.9M295.6 299.5H309.2M302.4 292.7V306.4M297.4 296.4H311M304.2 289.6V303.2M305.2 283.5H318.8M312 276.7V290.3M310.5 275.3H324.1M317.3 268.5V282.1M317.5 265.1H331.1M324.3 258.2V271.9M323.6 256.8H337.2M330.4 250V263.6M326.3 253.3H339.9M333.1 246.5V260.1M330.2 248.5H343.8M337 241.7V255.3M332.4 245.9H346M339.2 239.1V252.7M335.7 242.1H349.3M342.5 235.3V248.9M354.7 223.6H368.3M361.5 216.8V230.4M356.5 222.1H370.1M363.3 215.3V229M362.6 217.5H376.2M369.4 210.7V224.3M367 214.4H380.6M373.8 207.6V221.3M377.5 208.2H391.1M384.3 201.3V215M379.3 207.2H392.9M386.1 200.4V214.1M382.4 205.7H396M389.2 198.9V212.5M398.9 199.5H412.5M405.7 192.7V206.3M418.7 195.8H432.3M425.5 189V202.7M422.2 195.6H435.8M429 188.8V202.4M423.4 195.6H437M430.2 188.8V202.4M438 196.2H451.6M444.8 189.4V203M444.6 197.2H458.2M451.4 190.3V204M453.4 199.2H467M460.2 192.3V206M463.9 202.6H477.5M470.7 195.8V209.4M485.8 213.1H499.4M492.6 206.3V219.9M486.9 213.8H500.5M493.7 206.9V220.6M488.4 214.7H502M495.2 207.8V221.5M494.5 218.5H508.1M501.3 211.7V225.3M503.3 224.5H516.9M510.1 217.7V231.4M530.7 246.9H544.3M537.5 240.1V253.7M531.6 247.7H545.2M538.4 240.9V254.5M533.3 249.3H546.9M540.1 242.4V256.1M541.4 256.9H555M548.2 250.1V263.7M564 279.8H577.6M570.8 273V286.6" fill="none" stroke="#8000ff" stroke-width="1.5" stroke-linecap="round"/>
</g>
<g id="axes">
<path d="M87.5 0V521.9H685.3" fill="none" stroke="#141414" stroke-width="1.6" stroke-linejoin="miter"/>
<path d="M684.3 0V522.6" fill="none" stroke="#141414" stroke-width="2.2"/>
<path d="M86.7 0.7H685.3" fill="none" stroke="#5e5e5e" stroke-width="1.3"/>
<path d="M109.3 521.9v13M195.7 521.9v13M282.1 521.9v13M368.5 521.9v13M454.8 521.9v13M541.2 521.9v13M627.6 521.9v13M87.5 459.4h-13M87.5 381.7h-13M87.5 304.1h-13M87.5 226.4h-13M87.5 148.8h-13M87.5 71.1h-13" fill="none" stroke="#141414" stroke-width="1.6"/>
<text transform="translate(109.3 566.9) scale(1 1.05)" font-size="21.0" text-anchor="middle">30</text>
<text transform="translate(195.7 566.9) scale(1 1.05)" font-size="21.0" text-anchor="middle">35</text>
<text transform="translate(282.1 566.9) scale(1 1.05)" font-size="21.0" text-anchor="middle">40</text>
<text transform="translate(368.5 566.9) scale(1 1.05)" font-size="21.0" text-anchor="middle">45</text>
<text transform="translate(454.8 566.9) scale(1 1.05)" font-size="21.0" text-anchor="middle">50</text>
<text transform="translate(541.2 566.9) scale(1 1.05)" font-size="21.0" text-anchor="middle">55</text>
<text transform="translate(627.6 566.9) scale(1 1.05)" font-size="21.0" text-anchor="middle">60</text>
<text transform="translate(56.9 459.4) rotate(-90) scale(1 1.05)" font-size="21.0" text-anchor="middle">0.95</text>
<text transform="translate(56.9 381.7) rotate(-90) scale(1 1.05)" font-size="21.0" text-anchor="middle">1.00</text>
<text transform="translate(56.9 304.1) rotate(-90) scale(1 1.05)" font-size="21.0" text-anchor="middle">1.05</text>
<text transform="translate(56.9 226.4) rotate(-90) scale(1 1.05)" font-size="21.0" text-anchor="middle">1.10</text>
<text transform="translate(56.9 148.8) rotate(-90) scale(1 1.05)" font-size="21.0" text-anchor="middle">1.15</text>
<text transform="translate(56.9 71.1) rotate(-90) scale(1 1.05)" font-size="21.0" text-anchor="middle">1.20</text>
<text transform="translate(352.8 601.8) scale(1 1.035)" font-size="24.4" text-anchor="middle">Body mass index (kg/m&#178;)</text>
<text transform="translate(18.8 268.8) rotate(-90) scale(1 1.035)" font-size="24.4" text-anchor="middle">Lumbar bone mineral density (g/cm&#178;)</text>
</g>
<g id="legend">
<path d="M121.2 74.2a4 4 0 1 0 8 0a4 4 0 1 0 -8 0" fill="#ff0000"/>
<path d="M120.6 99.3a5 5 0 1 0 10.1 0a5 5 0 1 0 -10.1 0" fill="none" stroke="#80ff00" stroke-width="1.5"/>
<path d="M124.3 117L130.6 127.9L118 127.9Z" fill="none" stroke="#00ffff" stroke-width="1.5" stroke-linejoin="round"/>
<path d="M117.5 149.5H131.1M124.3 142.7V156.3" fill="none" stroke="#8000ff" stroke-width="1.5" stroke-linecap="round"/>
<text transform="translate(154.4 81.6) scale(1 1.035)" font-size="21.0">Mexican American</text>
<text transform="translate(154.4 106.7) scale(1 1.035)" font-size="21.0">White</text>
<text transform="translate(154.4 131.7) scale(1 1.035)" font-size="21.0">Black</text>
<text transform="translate(154.4 156.9) scale(1 1.035)" font-size="21.0">Other race/ethnicity</text>
</g>
</svg>
</body>
</html>
